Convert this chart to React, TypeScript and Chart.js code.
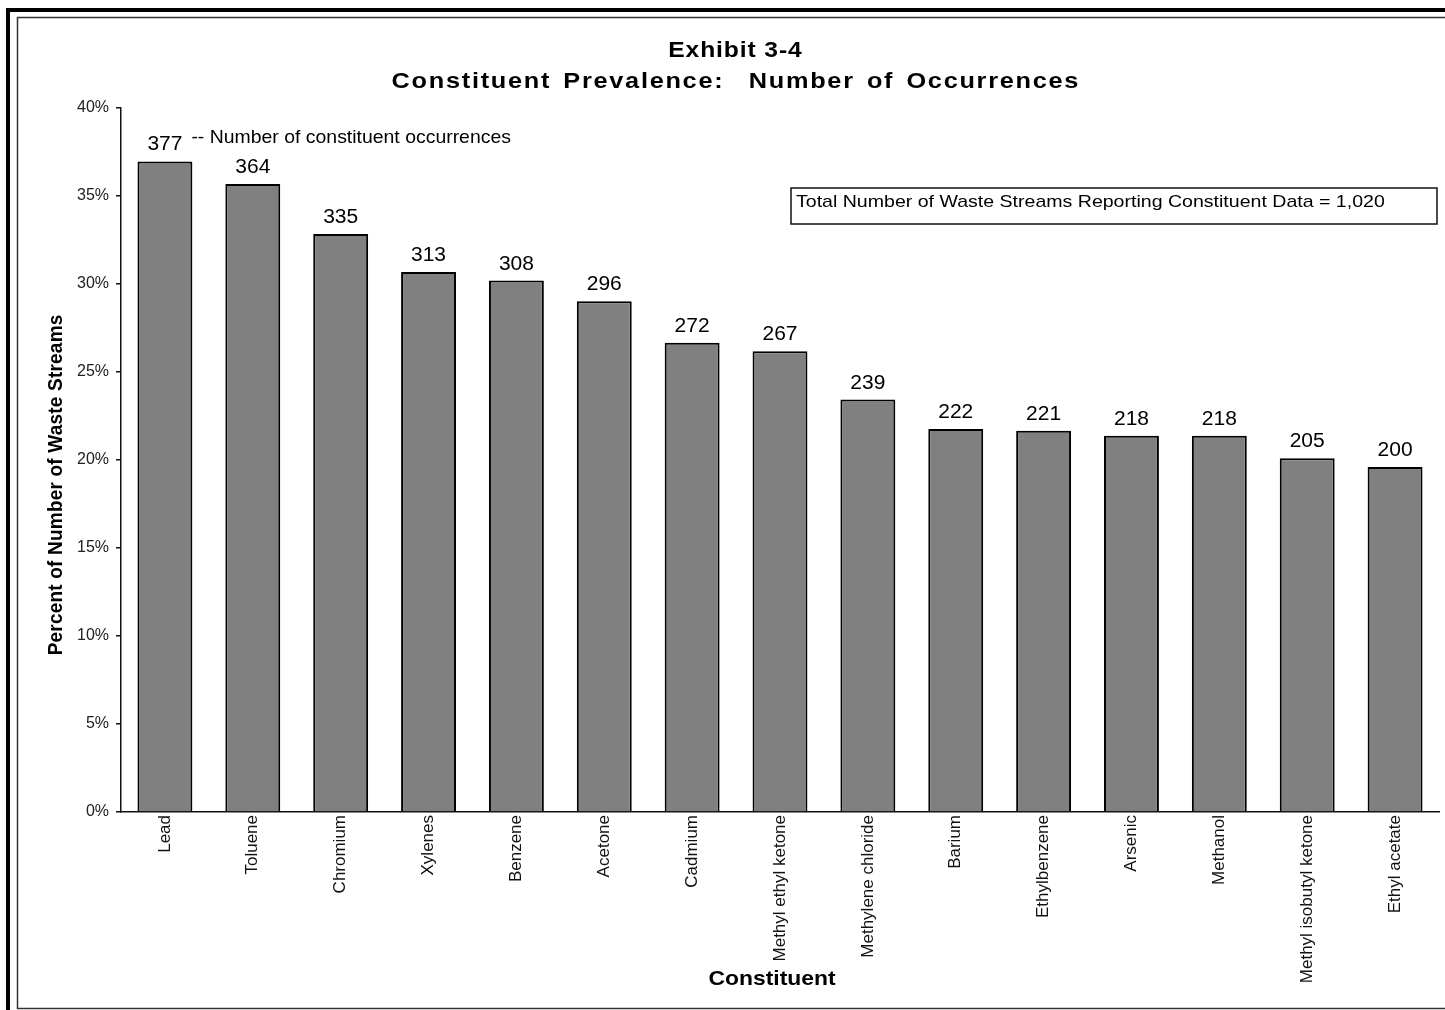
import { useEffect, useRef } from "react";
import { Chart, registerables } from "chart.js";

Chart.register(...registerables);

// Constituents ranked by number of waste streams in which they occur
const constituents = [
  "Lead",
  "Toluene",
  "Chromium",
  "Xylenes",
  "Benzene",
  "Acetone",
  "Cadmium",
  "Methyl ethyl ketone",
  "Methylene chloride",
  "Barium",
  "Ethylbenzene",
  "Arsenic",
  "Methanol",
  "Methyl isobutyl ketone",
  "Ethyl acetate",
];

const occurrences = [377, 364, 335, 313, 308, 296, 272, 267, 239, 222, 221, 218, 218, 205, 200];

const totalWasteStreams = 1020;

// Share of all reporting waste streams, in percent
const percentOfStreams = occurrences.map((n) => (n / totalWasteStreams) * 100);

const yMin = 0;
const yMax = 40;
const yStep = 5;

const titleLines = ["Exhibit 3-4", "Constituent Prevalence:  Number of Occurrences"];
const xTitle = "Constituent";
const yTitle = "Percent of Number of Waste Streams";
const occurrenceNote = "-- Number of constituent occurrences";
const totalNote = "Total Number of Waste Streams Reporting Constituent Data = 1,020";

const FONT = "'Liberation Sans', Arial, Helvetica, sans-serif";
const W = 1445;
const H = 1010;

type TextOpts = {
  font: string;
  align?: "left" | "center" | "right";
  spacing?: number;
  wordSpacing?: number;
  sx?: number;
  sy?: number;
};

// Draws text at (x, y) on the alphabetic baseline, with optional glyph widening
function drawText(ctx: CanvasRenderingContext2D, text: string, x: number, y: number, o: TextOpts) {
  const spacing = o.spacing ?? 0;
  const sx = o.sx ?? 1;
  const sy = o.sy ?? 1;
  ctx.save();
  ctx.font = o.font;
  ctx.fillStyle = "#000";
  ctx.textBaseline = "alphabetic";
  ctx.textAlign = "left";
  (ctx as any).letterSpacing = spacing + "px";
  (ctx as any).wordSpacing = (o.wordSpacing ?? 0) + "px";
  const w = (ctx.measureText(text).width - spacing) * sx;
  let left = x;
  if (o.align === "center") left = x - w / 2;
  else if (o.align === "right") left = x - w;
  ctx.translate(left, y);
  ctx.scale(sx, sy);
  ctx.fillText(text, 0, 0);
  ctx.restore();
}

const framePlugin = {
  id: "frame",
  beforeDraw(chart: Chart) {
    const { ctx } = chart;
    ctx.save();
    ctx.fillStyle = "#fff";
    ctx.fillRect(0, 0, W, H);
    ctx.strokeStyle = "#000";
    ctx.lineWidth = 4;
    ctx.strokeRect(8, 10, W + 40, H + 40);
    ctx.strokeStyle = "#333";
    ctx.lineWidth = 1.5;
    ctx.strokeRect(17.5, 17.5, W + 40, 991);
    ctx.restore();
  },
};

const annotationPlugin = {
  id: "annotations",
  afterDatasetsDraw(chart: Chart) {
    const { ctx } = chart;
    const meta = chart.getDatasetMeta(0);

    // count printed above each bar
    meta.data.forEach((bar: any, i: number) => {
      drawText(ctx, String(occurrences[i]), bar.x, bar.y - 11, {
        font: `20px ${FONT}`,
        align: "center",
        sx: 1.05,
      });
    });

    // note next to the first bar's count
    const first: any = meta.data[0];
    drawText(ctx, occurrenceNote, first.x + first.width / 2 - 1, 143, {
      font: `18.5px ${FONT}`,
      sx: 1.05,
    });

    // total box
    ctx.save();
    ctx.strokeStyle = "#111";
    ctx.lineWidth = 1.5;
    ctx.strokeRect(791, 188, 646, 36);
    ctx.restore();
    drawText(ctx, totalNote, 796, 206.5, { font: `17px ${FONT}`, sx: 1.15 });
  },
  afterDraw(chart: Chart) {
    const { ctx } = chart;
    drawText(ctx, titleLines[0], 735, 57, {
      font: `bold 22px ${FONT}`,
      align: "center",
      spacing: 0.8,
      sx: 1.12,
    });
    drawText(ctx, titleLines[1], 735, 88, {
      font: `bold 22px ${FONT}`,
      align: "center",
      spacing: 1.5,
      wordSpacing: 3,
      sx: 1.15,
    });
    drawText(ctx, xTitle, 772, 985, {
      font: `bold 21px ${FONT}`,
      align: "center",
      sx: 1.09,
    });

    ctx.save();
    ctx.translate(62, 485);
    ctx.rotate(-Math.PI / 2);
    drawText(ctx, yTitle, 0, 0, {
      font: `bold 19px ${FONT}`,
      align: "center",
      spacing: 0.2,
      sy: 1.1,
    });
    ctx.restore();
  },
};

export default function App() {
  const canvasRef = useRef<HTMLCanvasElement | null>(null);

  useEffect(() => {
    const canvas = canvasRef.current;
    if (!canvas) return;
    const chart = new Chart(canvas, {
      type: "bar",
      data: {
        labels: constituents,
        datasets: [
          {
            data: percentOfStreams,
            backgroundColor: "#808080",
            borderColor: "#000",
            borderWidth: 2,
            barPercentage: 0.625,
            categoryPercentage: 1,
          },
        ],
      },
      options: {
        animation: false,
        responsive: false,
        maintainAspectRatio: false,
        layout: { padding: { left: 0, top: 108, right: 6, bottom: 0 } },
        plugins: {
          legend: { display: false },
          tooltip: { enabled: false },
          title: { display: false },
        },
        scales: {
          x: {
            grid: { display: false, drawTicks: false },
            border: { display: true, color: "#111", width: 1.5 },
            ticks: {
              autoSkip: false,
              minRotation: 90,
              maxRotation: 90,
              padding: 3,
              color: "#111",
              font: { family: FONT, size: 17 },
            },
            afterFit: (scale: any) => {
              scale.height = 198;
            },
          },
          y: {
            min: yMin,
            max: yMax,
            grid: {
              drawOnChartArea: false,
              drawTicks: true,
              tickLength: 5,
              color: "#111",
              lineWidth: 1.5,
            },
            border: { display: true, color: "#111", width: 1.5 },
            ticks: {
              stepSize: yStep,
              padding: 7,
              color: "#222",
              font: { family: FONT, size: 16 },
              callback: (v: any) => `${v}%`,
            },
            afterFit: (scale: any) => {
              scale.width = 121;
            },
          },
        },
      },
      plugins: [framePlugin, annotationPlugin],
    });
    return () => chart.destroy();
  }, []);

  return (
    <div style={{ position: "absolute", left: 0, top: 0, width: W, height: H, overflow: "hidden" }}>
      <canvas ref={canvasRef} width={W} height={H} style={{ display: "block", width: W, height: H }} />
    </div>
  );
}
